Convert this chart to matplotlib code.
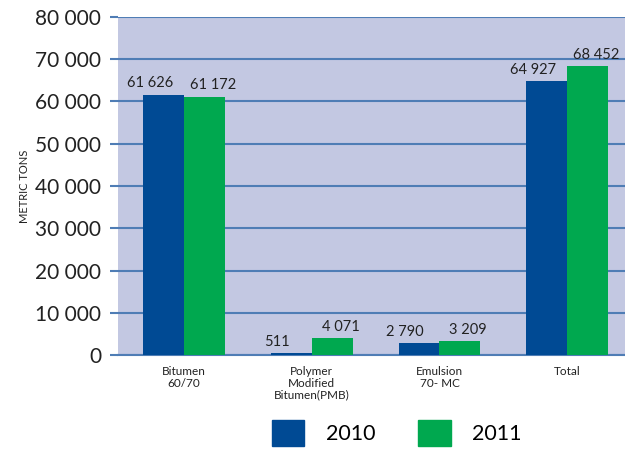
import matplotlib.pyplot as plt
import numpy as np
from matplotlib.patches import Patch

# ---------- Data ----------
categories = ["Bitumen\n60/70", "Polymer\nModified\nBitumen(PMB)", "Emulsion\n70- MC", "Total"]
values_2010 = [61626, 511, 2790, 64927]
values_2011 = [61172, 4071, 3209, 68452]
years = ["2010", "2011"]

blue = "#004A94"
green = "#00A84F"
grid_blue = "#4F7DB5"
bg = "#C3C8E2"

plt.rcParams['font.family'] = ['Lato', 'DejaVu Sans']

fig = plt.figure(figsize=(6.25, 4.54), dpi=100)
ax = fig.add_axes([0.1888, 0.218, 0.8112, 0.7446])
ax.set_facecolor(bg)

x = np.arange(len(categories))
w = 0.32

b1 = ax.bar(x - w/2, values_2010, w, color=blue, zorder=3)
b2 = ax.bar(x + w/2, values_2011, w, color=green, zorder=3)

fmt = lambda v: f"{v:,}".replace(",", " ")

# value labels, nudged apart so neighbouring ones don't collide
for rects, vals, dx in [(b1, values_2010, -10), (b2, values_2011, 6)]:
    for r, v in zip(rects, vals):
        ax.annotate(fmt(v), (r.get_x() + r.get_width()/2, v),
                    xytext=(dx, 3), textcoords="offset points",
                    ha="center", va="bottom", fontsize=10.5, color="#222222")

ax.set_xlim(-0.517, 3.453)
ax.set_ylim(0, 80000)
ax.set_yticks(np.arange(0, 80001, 10000))
ax.set_yticklabels([fmt(v) for v in range(0, 80001, 10000)], fontsize=15, color="#222222")
ax.yaxis.grid(True, color=grid_blue, linewidth=1.5, zorder=1)
ax.tick_params(axis='y', length=6, width=1.5, color=grid_blue, pad=6)

ax.set_xticks(x)
ax.set_xticklabels(categories, fontsize=8.5, color="#222222", linespacing=1.05)
ax.tick_params(axis='x', length=0, pad=8)

for s in ["top", "right", "left"]:
    ax.spines[s].set_visible(False)
ax.spines["bottom"].set_color(grid_blue)
ax.spines["bottom"].set_linewidth(1.5)

ax.set_ylabel("METRIC TONS", fontsize=8, color="#222222", labelpad=4)

handles = [Patch(color=blue), Patch(color=green)]
fig.legend(handles, years, loc="lower center", bbox_to_anchor=(0.635, -0.025), ncol=2,
           frameon=False, fontsize=15.5, handlelength=1.5, handleheight=1.5,
           columnspacing=2.0, handletextpad=1.0)

fig.savefig("out.png", dpi=100)
